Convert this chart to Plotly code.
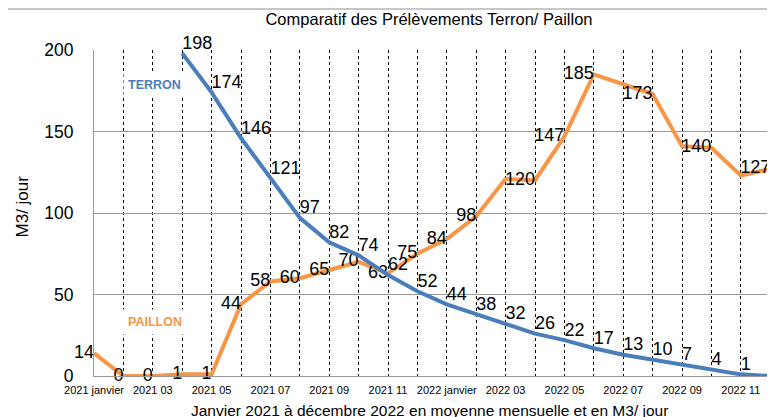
import plotly.graph_objects as go

months = ["2021 janvier", "2021 02", "2021 03", "2021 04", "2021 05", "2021 06",
          "2021 07", "2021 08", "2021 09", "2021 10", "2021 11", "2021 12",
          "2022 janvier", "2022 02", "2022 03", "2022 04", "2022 05", "2022 06",
          "2022 07", "2022 08", "2022 09", "2022 10", "2022 11", "2022 12"]

terron = [None, None, None, 198, 174, 146, 121, 97, 82, 74, 62, 52,
          44, 38, 32, 26, 22, 17, 13, 10, 7, 4, 1, 0]

paillon = [14, 0, 0, 1, 1, 44, 58, 60, 65, 70, 63, 75,
           84, 98, 121, 120, 147, 185, 179, 173, 141, 140, 123, 127]

paillon_labels = ["14", "0", "0", "1", "1", "44", "58", "60", "65", "70", "63", "75",
                  "84", "98", "", "120", "147", "185", "", "173", "", "140", "", "127"]

terron_labels = ["" if v is None else str(v) for v in terron]

y_ticks = [0, 50, 100, 150, 200]

FONT = "Liberation Sans, Arial, Helvetica, sans-serif"
BLUE = "#4a7ebb"
ORANGE = "#f79646"

# page body has an 8px margin: figure origin at (8, 8) in the window
OX, OY = 8, 8
W, H = 767, 409
L, T, B = 94 - OX, 50 - OY, 41
PW = W - L          # plot width in px
PH = H - T - B      # plot height in px

x = list(range(len(months)))

fig = go.Figure()

fig.add_trace(go.Scatter(
    x=x, y=paillon, mode="lines+text", text=paillon_labels,
    textposition="middle left", textfont=dict(family=FONT, size=18, color="black"),
    line=dict(color=ORANGE, width=4), cliponaxis=False, name="PAILLON",
))
fig.add_trace(go.Scatter(
    x=x, y=terron, mode="lines+text", text=terron_labels,
    textposition="top right", textfont=dict(family=FONT, size=18, color="black"),
    line=dict(color=BLUE, width=4), cliponaxis=False, name="TERRON",
))

fig.update_layout(
    width=W, height=H, autosize=False,
    margin=dict(l=L, r=0, t=T, b=B),
    paper_bgcolor="white", plot_bgcolor="white",
    showlegend=False,
    font=dict(family=FONT, color="black"),
    title=dict(text="Comparatif des Prélèvements Terron/ Paillon",
               x=(429 - OX) / W, xref="container", xanchor="center",
               y=1 - (19 - OY) / H, yref="container", yanchor="middle",
               font=dict(family=FONT, size=16.5, color="black")),
)

fig.update_xaxes(
    range=[0, PW / 29.4],
    tickmode="array", tickvals=x[::2], ticktext=months[::2],
    tickfont=dict(family=FONT, size=11, color="black"),
    ticks="outside", ticklen=4, tickcolor="rgba(0,0,0,0)",
    showgrid=True, gridcolor="black", gridwidth=1, griddash="3px,3px",
    minor=dict(tickmode="linear", tick0=0, dtick=1, showgrid=True,
               gridcolor="black", gridwidth=1, griddash="3px,3px"),
    showline=True, linecolor="#9a9a9a", linewidth=1,
    zeroline=False, automargin=False,
)
fig.update_yaxes(
    range=[0, 200], tickmode="array", tickvals=y_ticks,
    tickfont=dict(family=FONT, size=17.5, color="black"),
    ticks="outside", ticklen=16, tickcolor="rgba(0,0,0,0)",
    showgrid=True, gridcolor="#9a9a9a", gridwidth=1,
    showline=True, linecolor="#9a9a9a", linewidth=1,
    zeroline=False, automargin=False,
)

# frame
fig.add_shape(type="rect", xref="paper", yref="paper",
              x0=(7 - 94) / PW, x1=1.05, y0=-0.3, y1=1 + (50 - 9) / PH,
              line=dict(color="#b5b5b5", width=1.5), layer="below")

# series labels
fig.add_annotation(x=2.07, y=178.5, xref="x", yref="y", text="<b>TERRON</b>",
                   showarrow=False, font=dict(family=FONT, size=12.5, color=BLUE),
                   bgcolor="white", borderpad=4)
fig.add_annotation(x=2.07, y=33, xref="x", yref="y", text="<b>PAILLON</b>",
                   showarrow=False, font=dict(family=FONT, size=12.5, color=ORANGE),
                   bgcolor="white", borderpad=5)

# axis titles
fig.add_annotation(x=(429 - 94) / PW, y=(376 - 410) / PH, xref="paper", yref="paper",
                   text="Janvier 2021 à décembre 2022 en moyenne mensuelle et en M3/ jour",
                   showarrow=False, xanchor="center", yanchor="middle",
                   font=dict(family=FONT, size=15.5, color="black"))
fig.add_annotation(x=(22 - 94) / PW, y=0.52, xref="paper", yref="paper",
                   text="M3/ jour", textangle=-90, showarrow=False,
                   xanchor="center", yanchor="middle",
                   font=dict(family=FONT, size=17, color="black"))

fig.write_html("out.html")
